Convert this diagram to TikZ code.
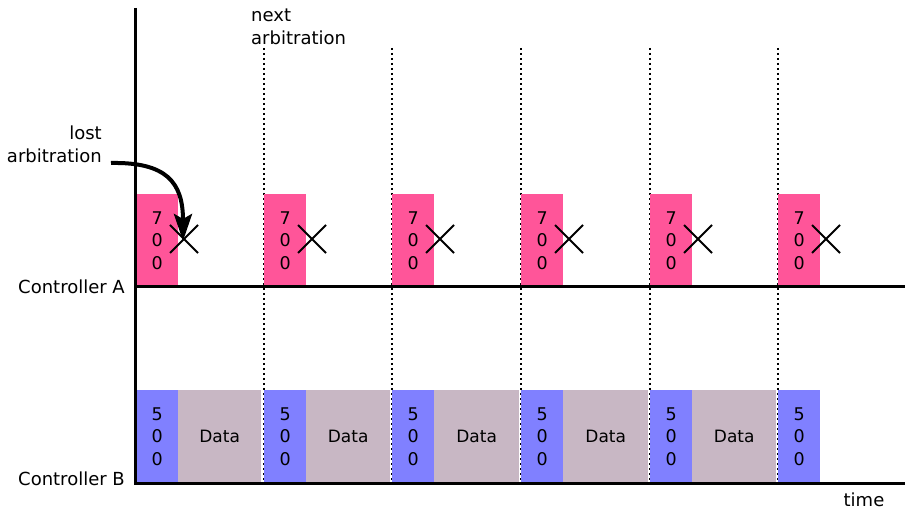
\documentclass[tikz,border=0pt]{standalone}
\usepackage{fontspec}
\setmainfont{DejaVu Sans}
\usetikzlibrary{arrows.meta,shapes.misc}
\definecolor{frameA}{HTML}{FF5599}
\definecolor{frameB}{HTML}{8080FF}
\definecolor{payload}{HTML}{C8B7C4}
\tikzset{
  axis/.style={line width=3pt},
  slot/.style={line width=2pt, dash pattern=on 2pt off 3pt},
  idbox/.style={anchor=north west, inner sep=0pt, minimum width=42pt, minimum height=93pt,
    align=center, font=\fontsize{17.5}{22.5}\selectfont},
  databox/.style={anchor=north west, inner sep=0pt, minimum height=93pt, fill=payload,
    font=\fontsize{17}{20}\selectfont},
  lbl/.style={font=\fontsize{18}{23}\selectfont, inner sep=0pt},
  fail/.style={draw, cross out, line width=2pt, minimum size=26pt, inner sep=0pt},
}
\begin{document}
\begin{tikzpicture}[x=1pt,y=-1pt]
\useasboundingbox (0,0) rectangle (905,510);

% time slots (arbitration points)
\foreach \xx in {264,392,521,650,778}{
  \draw[slot] (\xx,48) -- (\xx,483);
}

% controller A: ID 700 frames, each losing arbitration
\foreach \xx [count=\i from 0] in {136,264,392,521,650,778}{
  \node[idbox, fill=frameA] (pa\i) at (\xx,194) {7\\0\\0};
  \node[fail] (xa\i) at (\xx+48,239) {};
}

% controller B: ID 500 frames followed by data
\foreach \xx [count=\i from 0] in {136,264,392,521,650,778}{
  \node[idbox, fill=frameB] (pb\i) at (\xx,390) {5\\0\\0};
}
\foreach \xx/\w [count=\i from 0] in {178/83,306/84,434/85,563/85,692/84}{
  \node[databox, minimum width=\w pt] (db\i) at (\xx,390) {Data};
}

% axes
\draw[axis] (135,8) -- (135,485);
\draw[axis] (135,287) -- (905,287);
\draw[axis] (135,483) -- (905,483);

% labels
\node[lbl, anchor=east] (ca) at (125,287) {Controller A};
\node[lbl, anchor=east] (cb) at (125,479) {Controller B};
\node[lbl] (tm) at (864,500) {time};
\node[lbl, anchor=east, align=right] (lost) at (102,144) {lost\\arbitration};
\node[lbl, anchor=west, align=left] (next) at (251,27) {next\\arbitration};

% arrow from the label to the failed frame
\coordinate (lostend) at (111,163);
\draw[line width=4pt, -{Stealth[length=27pt,width=18pt,inset=5pt]}]
  (lostend) .. controls (166,162) and (183,182) .. ([xshift=-1pt,yshift=-2pt]xa0.center);
\end{tikzpicture}
\end{document}
